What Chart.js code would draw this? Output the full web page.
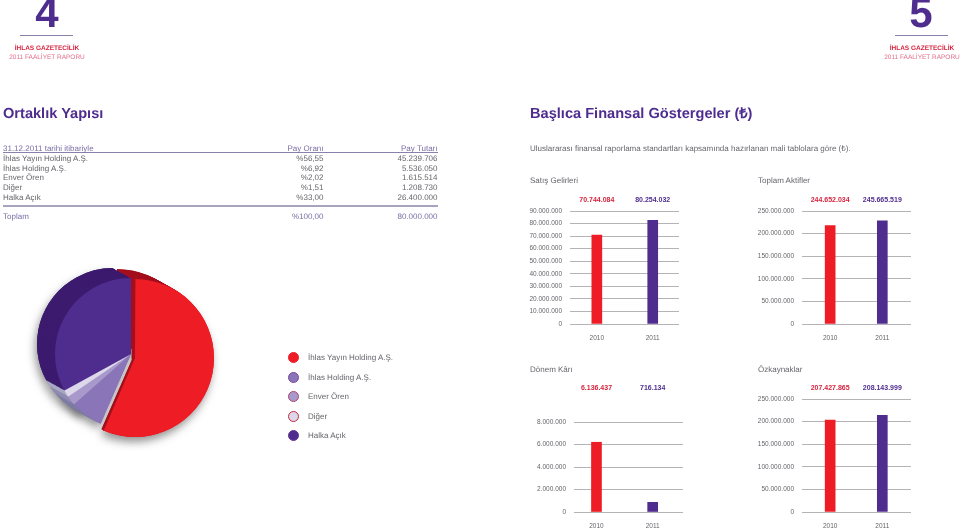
<!DOCTYPE html>
<html lang="tr">
<head>
<meta charset="utf-8">
<title>Ortaklık Yapısı</title>
<script src="https://cdn.jsdelivr.net/npm/chart.js@4"></script>
<style>
  html, body { margin: 0; padding: 0; background: #fff; }
  #page { position: relative; width: 960px; height: 528px; overflow: hidden; font-family: "Liberation Sans", Arial, sans-serif; color: #66646a; text-rendering: geometricPrecision; will-change: transform; }
  #page > * { position: absolute; }
  .t { white-space: nowrap; line-height: 12px; font-size: 8px; }
  .num { font-size: 42px; line-height: 42px; font-weight: bold; color: #4f2d8f; width: 60px; text-align: center; }
  .rule { height: 1px; background: #8a80ac; }
  .co { font-size: 6.5px; font-weight: bold; color: #d6243e; width: 110px; text-align: center; }
  .rep { font-size: 6.5px; color: #e2708c; width: 110px; text-align: center; }
  .head { font-size: 14.6px; line-height: 20px; font-weight: bold; color: #4f2d8f; white-space: nowrap; }
  .r { text-align: right; }
  .dot { width: 9px; height: 9px; border-radius: 50%; border: 1.5px solid; }
</style>
</head>
<body>
<div id="page">
  <div class="num" style="left:17px;top:-8px">4</div>
  <div class="rule" style="left:20px;top:35px;width:53px"></div>
  <div class="t co" style="left:-8px;top:43px">İHLAS GAZETECİLİK</div>
  <div class="t rep" style="left:-8px;top:52px">2011 FAALİYET RAPORU</div>
  <div class="num" style="left:891px;top:-8px">5</div>
  <div class="rule" style="left:895px;top:35px;width:53px"></div>
  <div class="t co" style="left:867px;top:43px">İHLAS GAZETECİLİK</div>
  <div class="t rep" style="left:867px;top:52px">2011 FAALİYET RAPORU</div>

  <div class="head" style="left:3px;top:104px">Ortaklık Yapısı</div>
  <div class="head" style="left:530px;top:104px">Başlıca Finansal Göstergeler (₺)</div>
  <div class="t" style="left:530px;top:143px">Uluslararası finansal raporlama standartları kapsamında hazırlanan mali tablolara göre (₺).</div>

  <div class="rule" style="left:3px;top:152px;width:435px"></div>
  <div class="rule" style="left:3px;top:205px;width:435px;height:1.5px;background:#a9a3c0"></div>

  <div class="t" style="left:530px;top:175px">Satış Gelirleri</div>
  <div class="t" style="left:758px;top:175px">Toplam Aktifler</div>
  <div class="t" style="left:530px;top:364px">Dönem Kârı</div>
  <div class="t" style="left:758px;top:364px">Özkaynaklar</div>

  <canvas id="pie" width="262" height="208" style="left:0;top:250px"></canvas>
  <canvas id="c1"></canvas>
  <canvas id="c2"></canvas>
  <canvas id="c3"></canvas>
  <canvas id="c4"></canvas>
</div>

<script>
// Ortaklık tablosu
const tableHead = ['31.12.2011 tarihi itibariyle', 'Pay Oranı', 'Pay Tutarı'];
const holders = ['İhlas Yayın Holding A.Ş.', 'İhlas Holding A.Ş.', 'Enver Ören', 'Diğer', 'Halka Açık'];
const shareText = ['%56,55', '%6,92', '%2,02', '%1,51', '%33,00'];
const amountText = ['45.239.706', '5.536.050', '1.615.514', '1.208.730', '26.400.000'];
const totalRow = ['Toplam', '%100,00', '80.000.000'];

// Pasta grafiği
const shares = [56.55, 6.92, 2.02, 1.51, 33.00];

// Çubuk grafikler: yükseklikler, etiketler resimde yazan değerler
const years = [2010, 2011];
const salesBars = [70800000, 82500000];
const salesLabels = ['70.744.084', '80.254.032'];
const salesTicks = [0, 10000000, 20000000, 30000000, 40000000, 50000000, 60000000, 70000000, 80000000, 90000000];
const assetsBars = [218000000, 228000000];
const assetsLabels = ['244.652.034', '245.665.519'];
const assetsTicks = [0, 50000000, 100000000, 150000000, 200000000, 250000000];
const profitBars = [6200000, 860000];
const profitLabels = ['6.136.437', '716.134'];
const profitTicks = [0, 2000000, 4000000, 6000000, 8000000];
const equityBars = [203500000, 214000000];
const equityLabels = ['207.427.865', '208.143.999'];
const equityTicks = [0, 50000000, 100000000, 150000000, 200000000, 250000000];

const RED = '#ee1c25';
const PURPLE = '#4f2d8f';
const FONT = '"Liberation Sans", Arial, sans-serif';
const TEXT_GREY = '#66646a';
const page = document.getElementById('page');

function addText(text, x, y, cls, color) {
    const el = document.createElement('div');
    el.className = 't ' + cls;
    el.textContent = text;
    el.style.top = y + 'px';
    if (cls === 'r') {
        el.style.right = (960 - x) + 'px';
    } else {
        el.style.left = x + 'px';
    }
    if (color) el.style.color = color;
    page.appendChild(el);
}

// Tablo satırları
const headColor = '#7a6da3';
addText(tableHead[0], 3, 143, '', headColor);
addText(tableHead[1], 323.5, 143, 'r', headColor);
addText(tableHead[2], 437.5, 143, 'r', headColor);
holders.forEach((name, i) => {
    const y = 153 + i * 9.7;
    addText(name, 3, y, '');
    addText(shareText[i], 323.5, y, 'r');
    addText(amountText[i], 437.5, y, 'r');
});
addText(totalRow[0], 3, 211, '', headColor);
addText(totalRow[1], 323.5, 211, 'r', headColor);
addText(totalRow[2], 437.5, 211, 'r', headColor);

// Lejant
const sliceColors = [RED, '#8a75b8', '#a898cc', '#dcd7ea', PURPLE];
const sideColors = ['#a30f1d', '#7d7aa3', '#8f8bb0', '#a9a6c4', '#3c1a6e'];
const dotBorders = ['#ee1c25', '#7b4a9c', '#b0436f', '#c8283c', '#6b2f8f'];
holders.forEach((name, i) => {
    const y = 352 + i * 19.5;
    const dot = document.createElement('div');
    dot.className = 'dot';
    dot.style.left = '288px';
    dot.style.top = y + 'px';
    dot.style.background = sliceColors[i];
    dot.style.borderColor = dotBorders[i];
    page.appendChild(dot);
    addText(name, 308, y, '');
});

// Dilimlerin derinliği ve gölgesi
const depthPlugin = {
    id: 'depth',
    beforeDatasetsDraw(chart) {
        const ctx = chart.ctx;
        const arcs = chart.getDatasetMeta(0).data;
        const depth = 18;
        const redX = 4, redY = 4, redR = 3;
        const slicePath = (arc, i) => {
            const cx = arc.x + (i === 0 ? redX : 0);
            const cy = arc.y + (i === 0 ? redY : 0);
            ctx.beginPath();
            ctx.moveTo(cx, cy);
            ctx.arc(cx, cy, arc.outerRadius + (i === 0 ? redR : 0), arc.startAngle, arc.endAngle);
            ctx.closePath();
        };
        // gölge
        ctx.save();
        ctx.shadowColor = 'rgba(60,60,60,0.55)';
        ctx.shadowBlur = 8;
        ctx.shadowOffsetX = -2;
        ctx.shadowOffsetY = 5;
        arcs.forEach((arc, i) => {
            slicePath(arc, i);
            ctx.fillStyle = sliceColors[i];
            ctx.fill();
        });
        ctx.translate(-depth, -10);
        arcs.forEach((arc, i) => {
            if (i === 0) return;
            slicePath(arc, i);
            ctx.fillStyle = sideColors[i];
            ctx.fill();
        });
        ctx.restore();
        // yan yüzeyler: kırmızının alt yarısı diğer dilimlerin altında kalmaz, kırpılır
        for (let s = depth; s >= 1; s--) {
            ctx.save();
            ctx.translate(-s, -s * 10 / depth);
            arcs.forEach((arc, i) => {
                if (i === 0 && s > 2) {
                    ctx.save();
                    ctx.beginPath();
                    ctx.rect(0, 0, chart.width, arc.y - 5 + s * 10 / depth);
                    ctx.clip();
                }
                slicePath(arc, i);
                ctx.fillStyle = sideColors[i];
                ctx.fill();
                if (i === 0 && s > 2) ctx.restore();
            });
            ctx.restore();
        }
        // üst yüzeyler, kırmızı en son: kesik kenarları koyu şerit olarak altında görünür
        arcs.slice(1).forEach(arc => arc.draw(ctx));
        const red = arcs[0];
        const vx = red.x + redX, vy = red.y + redY, rr = red.outerRadius + redR;
        ctx.save();
        ctx.strokeStyle = sideColors[0];
        ctx.lineCap = 'round';
        ctx.lineWidth = 7;
        ctx.beginPath();
        ctx.moveTo(vx, vy);
        ctx.lineTo(vx + Math.cos(red.startAngle) * rr, vy + Math.sin(red.startAngle) * rr);
        ctx.stroke();
        ctx.lineWidth = 4;
        ctx.beginPath();
        ctx.moveTo(vx, vy);
        ctx.lineTo(vx + Math.cos(red.endAngle) * (rr - 2), vy + Math.sin(red.endAngle) * (rr - 2));
        ctx.stroke();
        ctx.restore();
        ctx.save();
        ctx.translate(1, 3.4);
        red.draw(ctx);
        ctx.restore();
        return false;
    }
};

new Chart(document.getElementById('pie'), {
    type: 'pie',
    data: {
        labels: holders,
        datasets: [{
            data: shares,
            backgroundColor: sliceColors,
            borderWidth: 0,
            offset: [12, 0, 0, 0, 0]
        }]
    },
    options: {
        responsive: false,
        animation: false,
        radius: 76,
        layout: { padding: 0 },
        plugins: { legend: { display: false }, tooltip: { enabled: false } }
    },
    plugins: [depthPlugin]
});

// Çubukların üstündeki değer etiketleri
const valueLabelPlugin = {
    id: 'valueLabels',
    afterDraw(chart, args, opts) {
        const ctx = chart.ctx;
        ctx.save();
        ctx.font = 'bold 7px ' + FONT;
        ctx.textAlign = 'center';
        ctx.textBaseline = 'middle';
        opts.texts.forEach((text, i) => {
            ctx.fillStyle = i === 0 ? '#d6243e' : PURPLE;
            ctx.fillText(text, chart.scales.x.getPixelForValue(years[i]), chart.chartArea.top - opts.gap);
        });
        ctx.restore();
    }
};

function barChart(id, bars, labels, ticks, box) {
    const canvas = document.getElementById(id);
    const yWidth = 70, xHeight = 24;
    canvas.width = yWidth + box.right - box.left + 2;
    canvas.height = box.pad + box.bottom - box.top + xHeight;
    canvas.style.left = (box.left - yWidth) + 'px';
    canvas.style.top = (box.top - box.pad) + 'px';
    return new Chart(canvas, {
        type: 'bar',
        data: {
            datasets: [{
                data: years.map((year, i) => ({ x: year, y: bars[i] })),
                backgroundColor: [RED, PURPLE],
                barThickness: 10
            }]
        },
        options: {
            responsive: false,
            animation: false,
            layout: { padding: { top: box.pad, right: 2 } },
            scales: {
                x: {
                    type: 'linear',
                    offset: false,
                    min: box.xMin,
                    max: box.xMax,
                    afterBuildTicks: s => { s.ticks = years.map(v => ({ value: v })); },
                    afterFit: s => { s.height = xHeight; },
                    grid: { display: false, drawTicks: false },
                    border: { display: false },
                    ticks: { color: TEXT_GREY, font: { family: FONT, size: 6.5 }, padding: 10, maxRotation: 0, callback: v => String(v) }
                },
                y: {
                    min: 0,
                    max: ticks[ticks.length - 1],
                    afterBuildTicks: s => { s.ticks = ticks.map(v => ({ value: v })); },
                    afterFit: s => { s.width = yWidth; },
                    grid: { color: '#b5b3b8', lineWidth: 1, drawTicks: false },
                    border: { display: false },
                    ticks: {
                        color: TEXT_GREY,
                        font: { family: FONT, size: 6.5 },
                        padding: 8,
                        callback: v => String(v).replace(/\B(?=(\d{3})+$)/g, '.')
                    }
                }
            },
            plugins: {
                legend: { display: false },
                tooltip: { enabled: false },
                valueLabels: { texts: labels, gap: box.gap }
            }
        },
        plugins: [valueLabelPlugin]
    });
}

barChart('c1', salesBars, salesLabels, salesTicks, { left: 570, right: 679, top: 211, bottom: 324, pad: 18, gap: 10.5, xMin: 2009.52, xMax: 2011.47 });
barChart('c2', assetsBars, assetsLabels, assetsTicks, { left: 802, right: 911, top: 211, bottom: 324, pad: 18, gap: 10.5, xMin: 2009.46, xMax: 2011.55 });
barChart('c3', profitBars, profitLabels, profitTicks, { left: 574, right: 683, top: 422, bottom: 512, pad: 40, gap: 33.5, xMin: 2009.6, xMax: 2011.54 });
barChart('c4', equityBars, equityLabels, equityTicks, { left: 802, right: 911, top: 399, bottom: 512, pad: 18, gap: 10.5, xMin: 2009.46, xMax: 2011.55 });
</script>
</body>
</html>
